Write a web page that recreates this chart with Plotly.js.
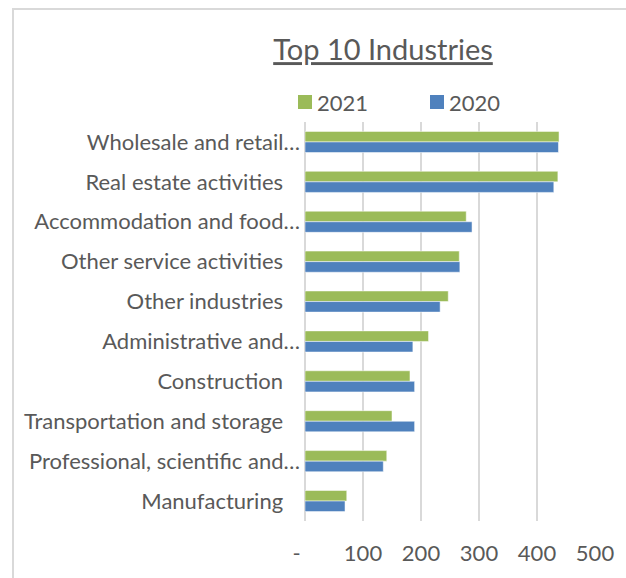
<!DOCTYPE html>
<html>
<head>
<meta charset="utf-8">
<script src="https://cdn.plot.ly/plotly-3.0.1.min.js"></script>
<style>
  html, body { margin: 0; padding: 0; background: #fff; overflow: hidden; }
  #chart { position: absolute; left: 0; top: 0; width: 626px; height: 578px; }
  #frame { position: absolute; left: 12px; top: 8px; width: 800px; height: 800px;
           border-left: 2px solid #d9d9d9; border-top: 2px solid #d9d9d9; pointer-events: none; }
</style>
</head>
<body>
<div id="chart"></div>
<div id="frame"></div>
<script>
// Categories, top to bottom
const categories = [
  "Wholesale and retail…",
  "Real estate activities",
  "Accommodation and food…",
  "Other service activities",
  "Other industries",
  "Administrative and…",
  "Construction",
  "Transportation and storage",
  "Professional, scientific and…",
  "Manufacturing"
];
// Displayed tick labels (non-truncated ones carry trailing spaces as in the original)
const categoryLabels = [
  "Wholesale and retail…",
  "Real estate activities\u00a0\u00a0\u00a0",
  "Accommodation and food…",
  "Other service activities\u00a0\u00a0\u00a0",
  "Other industries\u00a0\u00a0\u00a0",
  "Administrative and…",
  "Construction\u00a0\u00a0\u00a0",
  "Transportation and storage\u00a0\u00a0\u00a0",
  "Professional, scientific and…",
  "Manufacturing\u00a0\u00a0\u00a0"
];
const seriesNames = ["2021", "2020"];
const seriesColors = ["#9BBB59", "#4F81BD"];
const values2021 = [438, 436, 278, 266, 247, 213, 181, 150, 141, 72];
const values2020 = [437, 429, 288, 267, 233, 186, 189, 189, 135, 69];
const xTickVals = [0, 100, 200, 300, 400, 500];
const xTickText = ["-\u00a0\u00a0\u00a0", "100", "200", "300", "400", "500"];

const FONT = "Lato, 'Open Sans', sans-serif";
const GREY = "#595959";
const FS = 22;

// plot-area geometry (pixels) for placing the legend decoration
const M = { l: 305, r: 31, t: 122, b: 57 };
const W = 626, H = 578;
const PW = W - M.l - M.r, PH = H - M.t - M.b;
const px2x = p => (p - M.l) / PW;
const px2y = p => (H - M.b - p) / PH;

const traces = [
  {
    type: "bar", orientation: "h", name: seriesNames[0],
    y: categories, x: values2021,
    marker: { color: seriesColors[0], line: { color: "rgba(255,255,255,0.5)", width: 1 } }
  },
  {
    type: "bar", orientation: "h", name: seriesNames[1],
    y: categories, x: values2020,
    marker: { color: seriesColors[1], line: { color: "rgba(255,255,255,0.5)", width: 1 } }
  }
];

// Legend drawn as decoration (square + label), Excel style
const legendX = [298, 430];
const shapes = [], annotations = [];
seriesNames.forEach((nm, i) => {
  shapes.push({
    type: "rect", xref: "paper", yref: "paper",
    x0: px2x(legendX[i]), x1: px2x(legendX[i] + 14),
    y0: px2y(109), y1: px2y(95),
    fillcolor: seriesColors[i], line: { width: 0 }
  });
  annotations.push({
    xref: "paper", yref: "paper", showarrow: false,
    x: px2x(legendX[i] + 17), y: px2y(102),
    xanchor: "left", yanchor: "middle",
    text: nm, font: { family: FONT, size: FS, color: GREY }
  });
});

const layout = {
  width: W, height: H,
  margin: M,
  paper_bgcolor: "#fff", plot_bgcolor: "#fff",
  font: { family: FONT, color: GREY, size: FS },
  title: {
    text: "<u>Top 10 Industries</u>",
    font: { family: FONT, size: 29, color: GREY },
    xref: "container", x: 383 / 626, xanchor: "center",
    yref: "container", y: 1 - 50 / 578, yanchor: "middle"
  },
  barmode: "group",
  bargap: 0.47,
  bargroupgap: 0,
  showlegend: false,
  shapes: shapes,
  annotations: annotations,
  xaxis: {
    range: [0, 500],
    tickvals: xTickVals, ticktext: xTickText,
    showgrid: true, gridcolor: "#d9d9d9", gridwidth: 1.5,
    zeroline: true, zerolinecolor: "#d9d9d9", zerolinewidth: 1.5,
    showline: false, ticks: "",
    ticklabelstandoff: 17,
    tickfont: { family: FONT, size: FS, color: GREY },
    fixedrange: true
  },
  yaxis: {
    type: "category",
    autorange: "reversed",
    tickmode: "array", tickvals: categories, ticktext: categoryLabels,
    showgrid: false, zeroline: false, showline: false, ticks: "",
    ticklabelstandoff: 4,
    tickfont: { family: FONT, size: FS, color: GREY },
    fixedrange: true
  }
};

Plotly.newPlot("chart", traces, layout, { displayModeBar: false, staticPlot: true });
</script>
</body>
</html>
